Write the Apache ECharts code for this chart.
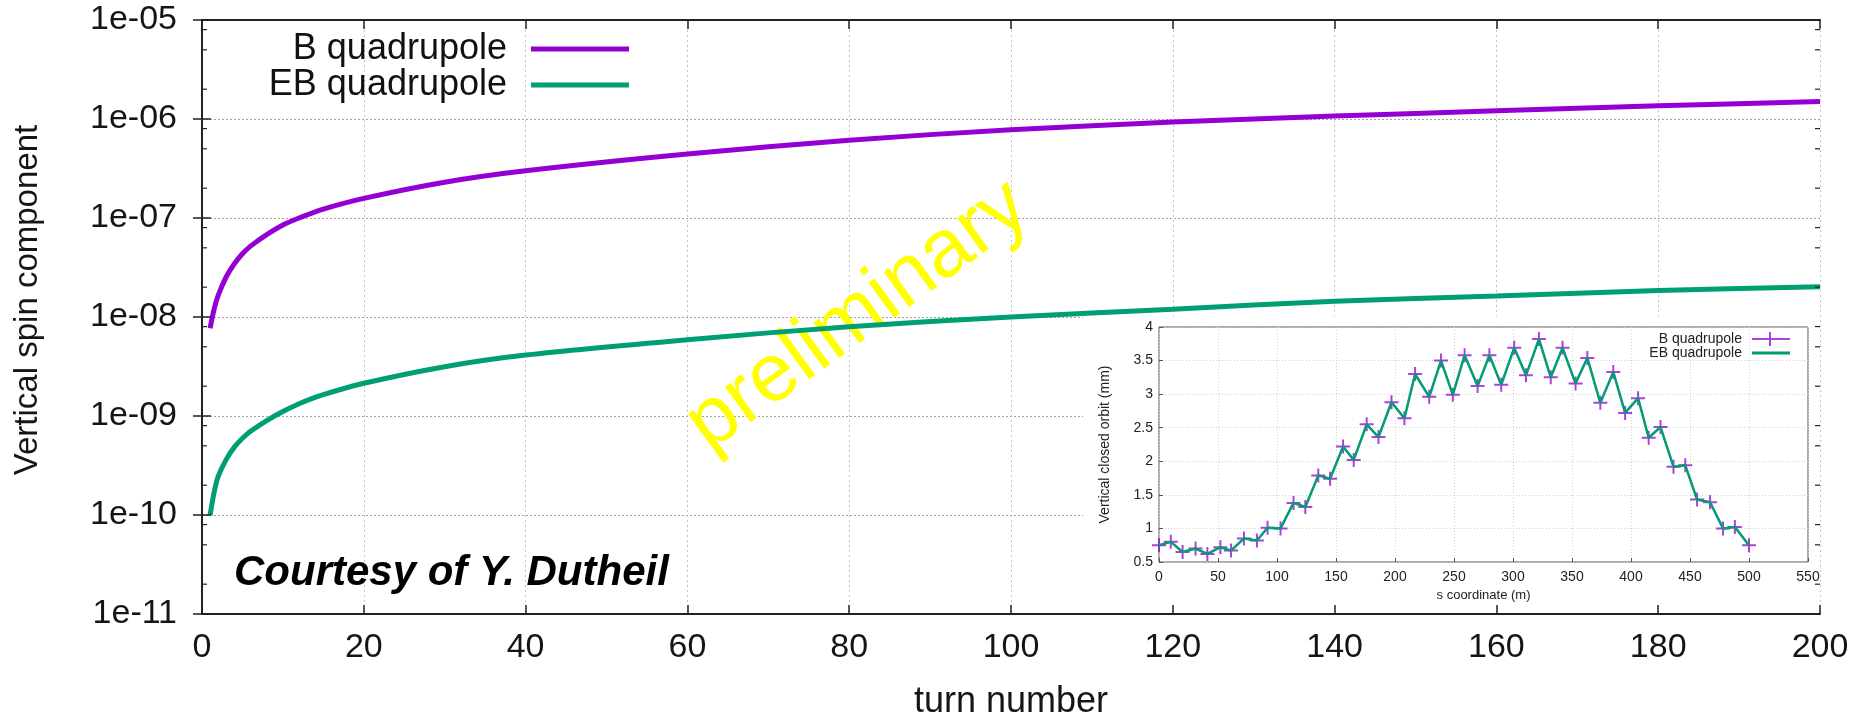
<!DOCTYPE html>
<html>
<head>
<meta charset="utf-8">
<script src="https://cdn.jsdelivr.net/npm/echarts@6/dist/echarts.min.js"></script>
<style>
  html, body { margin: 0; padding: 0; background: #ffffff; }
  #chart { width: 1864px; height: 719px; }
</style>
</head>
<body>
<div id="chart"></div>
<script>
// Vertical spin component versus turn number
const turns = [1, 1.5, 2, 3, 4, 5, 6, 8, 10, 12, 15, 20, 30, 40, 60, 80, 100, 120, 140, 160, 180, 200];
const spinB = [7.7e-9, 1.2e-8, 1.65e-8, 2.55e-8, 3.45e-8, 4.35e-8, 5.2e-8, 6.8e-8, 8.5e-8, 1.0e-7, 1.23e-7, 1.58e-7,
  2.3e-7, 3.0e-7, 4.43e-7, 6.1e-7, 7.8e-7, 9.3e-7, 1.07e-6, 1.21e-6, 1.36e-6, 1.5e-6];
const spinEB = [1.0e-10, 1.7e-10, 2.45e-10, 3.65e-10, 4.85e-10, 5.95e-10, 7.0e-10, 9.0e-10, 1.11e-9, 1.33e-9, 1.64e-9, 2.14e-9,
  3.15e-9, 4.13e-9, 5.9e-9, 7.98e-9, 1.0e-8, 1.2e-8, 1.44e-8, 1.63e-8, 1.85e-8, 2.02e-8];
const yTickLabels = ['1e-11', '1e-10', '1e-09', '1e-08', '1e-07', '1e-06', '1e-05'];
const minorMantissas = [2, 5, 8];

// Vertical closed orbit along the ring (inset)
const sCoord = [0, 10, 20, 31, 41, 52, 61, 72, 83, 92, 103, 114, 124, 135, 145, 156, 165, 176, 186, 197, 208, 217, 229,
  239, 249, 259, 270, 280, 290, 301, 311, 322, 332, 342, 353, 363, 374, 385, 395, 406, 415, 425, 436, 446, 456, 467,
  478, 488, 500];
const orbitB = [0.75, 0.80, 0.65, 0.70, 0.62, 0.72, 0.67, 0.85, 0.82, 1.01, 1.00, 1.38, 1.32, 1.79, 1.74, 2.22, 2.02,
  2.55, 2.36, 2.88, 2.64, 3.30, 2.96, 3.50, 2.99, 3.58, 3.12, 3.58, 3.14, 3.69, 3.28, 3.82, 3.25, 3.69, 3.16, 3.54,
  2.87, 3.33, 2.72, 2.94, 2.35, 2.51, 1.92, 1.94, 1.43, 1.39, 1.00, 1.02, 0.75];
const orbitEB = [0.75, 0.80, 0.65, 0.70, 0.62, 0.72, 0.67, 0.85, 0.82, 1.01, 1.00, 1.38, 1.32, 1.79, 1.74, 2.22, 2.02,
  2.55, 2.36, 2.88, 2.64, 3.30, 2.96, 3.50, 2.99, 3.58, 3.12, 3.58, 3.14, 3.69, 3.28, 3.82, 3.25, 3.69, 3.16, 3.54,
  2.87, 3.33, 2.72, 2.94, 2.35, 2.51, 1.92, 1.94, 1.43, 1.39, 1.00, 1.02, 0.75];

const FONT = '"Liberation Sans", Arial, Helvetica, sans-serif';
const PURPLE = '#9400D3';
const GREEN = '#009E73';
const FRAME = '#222222';

// minor log ticks at 2, 5 and 8 of every decade
const minorTicks = [];
for (let e = -11; e <= -6; e++) {
  minorMantissas.forEach(m => minorTicks.push([0, m * Math.pow(10, e)]));
}

const insetLegendText = {
  'B quadrupole (orbit)': 'B quadrupole',
  'EB quadrupole (orbit)': 'EB quadrupole'
};

const chart = echarts.init(document.getElementById('chart'), null, { renderer: 'canvas' });

const logAxisBase = {
  type: 'log', logBase: 10, min: 1e-11, max: 1e-5, splitNumber: 6
};

const option = {
  animation: false,
  backgroundColor: '#ffffff',
  grid: [
    { left: 202, top: 20, width: 1618, height: 594 },
    { left: 1159, top: 327, width: 649, height: 235, show: true, backgroundColor: '#ffffff',
      borderColor: '#555555', borderWidth: 1, z: 4 },
    { left: 202, top: 20, width: 1618, height: 594 }
  ],
  xAxis: [
    {
      gridIndex: 0, type: 'value', min: 0, max: 200, interval: 20, z: 0,
      axisLine: { show: false }, axisTick: { show: false },
      axisLabel: { fontFamily: FONT, fontSize: 34, color: '#151515', margin: 17 },
      splitLine: { show: true, lineStyle: { color: '#c2c2c2', width: 1, type: [2, 3] } }
    },
    {
      gridIndex: 1, type: 'value', min: 0, max: 550, interval: 50, z: 4,
      name: 's coordinate (m)', nameLocation: 'middle', nameGap: 27,
      nameTextStyle: { fontFamily: FONT, fontSize: 13, color: '#222' },
      axisLine: { show: false },
      axisTick: { show: true, inside: true, length: 4, lineStyle: { color: '#555' } },
      axisLabel: { fontFamily: FONT, fontSize: 14, color: '#222', margin: 8 },
      splitLine: { show: true, lineStyle: { color: '#d0d0d0', width: 1, type: [1, 2] } }
    },
    {
      gridIndex: 2, type: 'value', min: 0, max: 200, interval: 20, position: 'bottom', z: 10,
      axisLine: { show: true, lineStyle: { color: FRAME, width: 2 } },
      axisTick: { show: true, inside: true, length: 9, lineStyle: { color: FRAME, width: 1.5 } },
      axisLabel: { show: false }, splitLine: { show: false }
    },
    {
      gridIndex: 2, type: 'value', min: 0, max: 200, interval: 20, position: 'top', z: 10,
      axisLine: { show: true, lineStyle: { color: FRAME, width: 2 } },
      axisTick: { show: true, inside: true, length: 9, lineStyle: { color: FRAME, width: 1.5 } },
      axisLabel: { show: false }, splitLine: { show: false }
    }
  ],
  yAxis: [
    Object.assign({}, logAxisBase, {
      gridIndex: 0, z: 0,
      axisLine: { show: false }, axisTick: { show: false },
      axisLabel: {
        fontFamily: FONT, fontSize: 34, color: '#151515', margin: 25,
        formatter: v => yTickLabels[Math.round(Math.log10(v)) + 11]
      },
      splitLine: { show: true, lineStyle: { color: '#a0a0a0', width: 1, type: [2, 2] } }
    }),
    {
      gridIndex: 1, type: 'value', min: 0.5, max: 4, interval: 0.5, z: 4,
      name: 'Vertical closed orbit (mm)', nameLocation: 'middle', nameGap: 47,
      nameTextStyle: { fontFamily: FONT, fontSize: 14, color: '#222' },
      axisLine: { show: false },
      axisTick: { show: true, inside: true, length: 4, lineStyle: { color: '#555' } },
      axisLabel: { fontFamily: FONT, fontSize: 14, color: '#222', margin: 6 },
      splitLine: { show: true, lineStyle: { color: '#d0d0d0', width: 1, type: [1, 2] } }
    },
    Object.assign({}, logAxisBase, {
      gridIndex: 2, position: 'left', z: 10,
      axisLine: { show: true, lineStyle: { color: FRAME, width: 2 } },
      axisTick: { show: true, inside: true, length: 9, lineStyle: { color: FRAME, width: 1.5 } },
      axisLabel: { show: false }, splitLine: { show: false }
    }),
    Object.assign({}, logAxisBase, {
      gridIndex: 2, position: 'right', z: 10,
      axisLine: { show: true, lineStyle: { color: FRAME, width: 2 } },
      axisTick: { show: true, inside: true, length: 9, lineStyle: { color: FRAME, width: 1.5 } },
      axisLabel: { show: false }, splitLine: { show: false }
    })
  ],
  legend: [
    {
      orient: 'vertical', align: 'right', right: 1235, top: 31, padding: 0, itemGap: 0,
      itemWidth: 98, itemHeight: 5, icon: 'rect', selectedMode: false, z: 6,
      data: ['B quadrupole', 'EB quadrupole'],
      textStyle: { fontFamily: FONT, fontSize: 36, color: '#111', lineHeight: 36, padding: [0, 19, 0, 0] }
    },
    {
      orient: 'vertical', align: 'right', right: 74, top: 332, padding: 0, itemGap: 0,
      itemWidth: 38, itemHeight: 14, selectedMode: false, z: 6,
      data: [
        { name: 'B quadrupole (orbit)', icon: 'path://M0,6H17V0H19V6H38V8H19V14H17V8H0Z' },
        { name: 'EB quadrupole (orbit)', icon: 'path://M0,0H38V3H0Z' }
      ],
      formatter: name => insetLegendText[name],
      textStyle: { fontFamily: FONT, fontSize: 14, color: '#222', lineHeight: 14, padding: [0, 5, 0, 0] }
    }
  ],
  graphic: [
    // inset background hides the main grid lines
    { type: 'rect', z: 3, silent: true, shape: { x: 1083, y: 316, width: 737, height: 298 }, style: { fill: '#ffffff' } },
    {
      type: 'text', z: 1, x: 858, y: 316, rotation: 36 * Math.PI / 180, silent: true,
      style: { text: 'preliminary', fill: '#ffff00', font: '82px ' + FONT, align: 'center', verticalAlign: 'middle' }
    },
    {
      type: 'text', z: 1, x: 234, y: 573, silent: true,
      style: { text: 'Courtesy of Y. Dutheil', fill: '#000000', font: 'italic bold 42px ' + FONT, align: 'left', verticalAlign: 'middle' }
    },
    {
      type: 'text', z: 1, x: 28, y: 300, rotation: Math.PI / 2, silent: true,
      style: { text: 'Vertical spin component', fill: '#151515', font: '33px ' + FONT, align: 'center', verticalAlign: 'middle' }
    },
    {
      type: 'text', z: 1, x: 1011, y: 702, silent: true,
      style: { text: 'turn number', fill: '#151515', font: '36px ' + FONT, align: 'center', verticalAlign: 'middle' }
    }
  ],
  series: [
    {
      name: 'B quadrupole', type: 'line', xAxisIndex: 0, yAxisIndex: 0, z: 2,
      data: turns.map((t, i) => [t, spinB[i]]),
      color: PURPLE, symbol: 'none', smooth: 0.3,
      lineStyle: { width: 5, color: PURPLE }
    },
    {
      name: 'EB quadrupole', type: 'line', xAxisIndex: 0, yAxisIndex: 0, z: 2,
      data: turns.map((t, i) => [t, spinEB[i]]),
      color: GREEN, symbol: 'none', smooth: 0.3,
      lineStyle: { width: 5, color: GREEN }
    },
    {
      name: 'B quadrupole (orbit)', type: 'line', xAxisIndex: 1, yAxisIndex: 1, z: 5,
      data: sCoord.map((s, i) => [s, orbitB[i]]),
      color: PURPLE,
      symbol: 'path://M6,0H8V6H14V8H8V14H6V8H0V6H6Z', symbolSize: 14, showSymbol: true,
      itemStyle: { color: PURPLE, opacity: 0.75 },
      lineStyle: { width: 1.5, color: PURPLE, opacity: 0.75 }
    },
    {
      name: 'EB quadrupole (orbit)', type: 'line', xAxisIndex: 1, yAxisIndex: 1, z: 6,
      data: sCoord.map((s, i) => [s, orbitEB[i]]),
      color: GREEN, symbol: 'none',
      lineStyle: { width: 2.5, color: GREEN }
    },
    {
      // minor ticks on the left and right frame of the log axis
      type: 'custom', xAxisIndex: 2, yAxisIndex: 2, z: 10, silent: true,
      data: minorTicks,
      encode: { x: 0, y: 1 },
      renderItem: function (params, api) {
        const v = api.value(1);
        const l = api.coord([0, v]);
        const r = api.coord([200, v]);
        const st = { stroke: FRAME, lineWidth: 1.2 };
        return {
          type: 'group',
          children: [
            { type: 'line', shape: { x1: l[0], y1: l[1], x2: l[0] + 5, y2: l[1] }, style: st },
            { type: 'line', shape: { x1: r[0] - 5, y1: r[1], x2: r[0], y2: r[1] }, style: st }
          ]
        };
      }
    }
  ]
};

chart.setOption(option);
</script>
</body>
</html>
